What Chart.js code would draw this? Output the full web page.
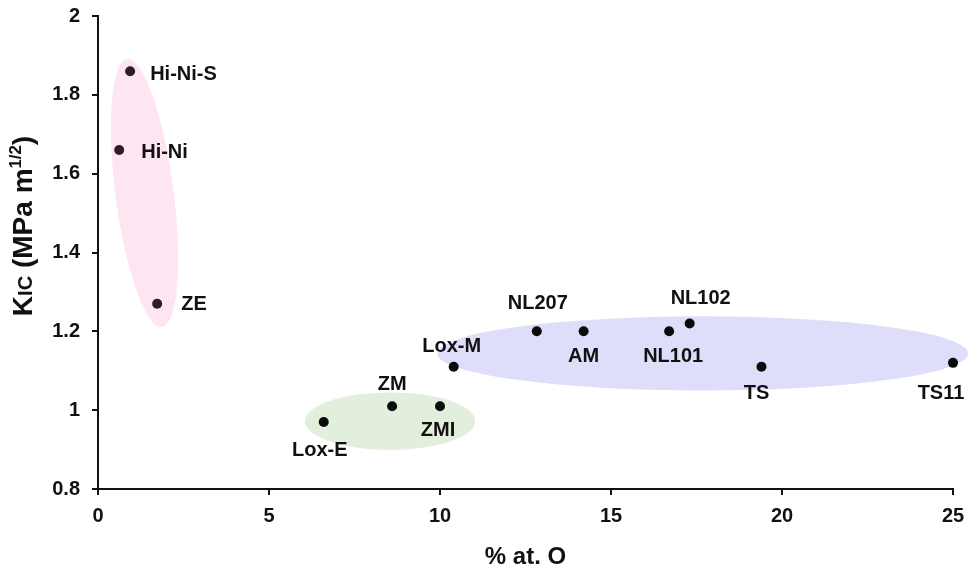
<!DOCTYPE html>
<html>
<head>
<meta charset="utf-8">
<script src="https://cdn.jsdelivr.net/npm/chart.js@4"></script>
<style>
  html, body { margin: 0; padding: 0; background: #fff; }
  canvas { display: block; }
</style>
</head>
<body>
<canvas id="kic-chart" width="975" height="572"></canvas>
<script>
// Tenacidad a la fractura vs contenido de oxigeno

let samples = ["Hi-Ni-S", "Hi-Ni", "ZE", "Lox-E", "ZM", "ZMI", "Lox-M", "NL207", "AM", "NL101", "NL102", "TS", "TS11"];
let oxygen = [0.94, 0.62, 1.73, 6.6, 8.6, 10.0, 10.4, 12.83, 14.2, 16.7, 17.3, 19.4, 25.0];
let kic = [1.86, 1.66, 1.27, 0.97, 1.01, 1.01, 1.11, 1.2, 1.2, 1.2, 1.22, 1.11, 1.12];

let xTicks = [0, 5, 10, 15, 20, 25];
let yTicks = [0.8, 1, 1.2, 1.4, 1.6, 1.8, 2];

// Grupos sombreados (centro y semiejes en unidades de los ejes)
let groups = [
  { cx: 1.36, cy: 1.551, rx: 0.85, ry: 0.343, rot: -7.4, color: "#fde6f1" },
  { cx: 8.54, cy: 0.972, rx: 2.49, ry: 0.073, rot: 0, color: "#e3efdd" },
  { cx: 17.68, cy: 1.144, rx: 7.76, ry: 0.094, rot: 0, color: "#dedefa" },
];

// Posicion de cada etiqueta respecto a su punto (px)
let labelPlacement = [
  { dx: 20, dy: 3, align: "left" },
  { dx: 22, dy: 2, align: "left" },
  { dx: 24, dy: 1, align: "left" },
  { dx: -4, dy: 28, align: "center" },
  { dx: 0, dy: -22, align: "center" },
  { dx: -2, dy: 24, align: "center" },
  { dx: -2, dy: -20, align: "center" },
  { dx: 1, dy: -28, align: "center" },
  { dx: 0, dy: 25, align: "center" },
  { dx: 4, dy: 25, align: "center" },
  { dx: 11, dy: -25, align: "center" },
  { dx: -5, dy: 27, align: "center" },
  { dx: -12, dy: 31, align: "center" },
];

let dotColors = samples.map((s, i) => (i < 3 ? "#2e1c28" : "#0a0a0a"));

const FONT = "'Liberation Sans', Arial, Helvetica, sans-serif";
const INK = "#111";

let ellipsePlugin = {
  id: "ellipses",
  beforeDatasetsDraw(chart) {
    let ctx = chart.ctx;
    let xs = chart.scales.x;
    let ys = chart.scales.y;
    groups.forEach((g) => {
      let px = xs.getPixelForValue(g.cx);
      let py = ys.getPixelForValue(g.cy);
      let rxPx = Math.abs(xs.getPixelForValue(g.cx + g.rx) - px);
      let ryPx = Math.abs(ys.getPixelForValue(g.cy + g.ry) - py);
      ctx.save();
      ctx.fillStyle = g.color;
      ctx.beginPath();
      ctx.ellipse(px, py, rxPx, ryPx, (g.rot * Math.PI) / 180, 0, Math.PI * 2);
      ctx.fill();
      ctx.restore();
    });
  },
};

let labelPlugin = {
  id: "pointLabels",
  afterDatasetsDraw(chart) {
    let ctx = chart.ctx;
    let meta = chart.getDatasetMeta(0);
    ctx.save();
    ctx.font = `bold 20px ${FONT}`;
    ctx.fillStyle = INK;
    ctx.textBaseline = "middle";
    meta.data.forEach((pt, i) => {
      let p = labelPlacement[i];
      ctx.textAlign = p.align;
      ctx.fillText(samples[i], pt.x + p.dx, pt.y + p.dy);
    });
    ctx.restore();
  },
};

// Titulo del eje Y con subindice y superindice
let yTitlePlugin = {
  id: "yTitle",
  afterDraw(chart) {
    let ctx = chart.ctx;
    let size = 28;
    let parts = [
      { t: "K", s: size, rise: 0 },
      { t: "IC", s: size * 0.72, rise: 0 },
      { t: " (MPa m", s: size, rise: 0 },
      { t: "1/2", s: size * 0.6, rise: size * 0.38 },
      { t: ")", s: size, rise: 0 },
    ];
    ctx.save();
    let total = 0;
    parts.forEach((p) => {
      ctx.font = `bold ${p.s}px ${FONT}`;
      p.w = ctx.measureText(p.t).width;
      total += p.w;
    });
    ctx.translate(22, 226);
    ctx.rotate(-Math.PI / 2);
    ctx.fillStyle = INK;
    ctx.textBaseline = "alphabetic";
    ctx.textAlign = "left";
    let x = -total / 2;
    parts.forEach((p) => {
      ctx.font = `bold ${p.s}px ${FONT}`;
      ctx.fillText(p.t, x, size * 0.36 - p.rise);
      x += p.w;
    });
    ctx.restore();
  },
};

let ctx = document.getElementById("kic-chart").getContext("2d");

new Chart(ctx, {
  type: "scatter",
  data: {
    datasets: [
      {
        label: "KIC",
        data: oxygen.map((x, i) => ({ x: x, y: kic[i] })),
        pointRadius: 5,
        pointHoverRadius: 5,
        pointBackgroundColor: dotColors,
        pointBorderWidth: 0,
        clip: false,
      },
    ],
  },
  options: {
    responsive: false,
    animation: false,
    layout: {
      padding: { left: 0, top: 16, right: 22, bottom: 0 },
    },
    plugins: {
      legend: { display: false },
      tooltip: { enabled: false },
    },
    scales: {
      x: {
        type: "linear",
        min: 0,
        max: 25,
        afterFit(scale) {
          scale.height = 83;
        },
        afterBuildTicks(scale) {
          scale.ticks = xTicks.map((v) => ({ value: v }));
        },
        border: { color: INK, width: 2 },
        grid: {
          drawOnChartArea: false,
          drawTicks: true,
          tickLength: 6,
          color: INK,
          lineWidth: 2,
        },
        ticks: {
          color: INK,
          padding: 9,
          font: { family: FONT, size: 20, weight: "bold" },
          callback: (v) => String(v),
        },
        title: {
          display: true,
          text: "% at. O",
          color: INK,
          padding: { top: 0, bottom: 0 },
          font: { family: FONT, size: 24, weight: "bold" },
        },
      },
      y: {
        type: "linear",
        min: 0.8,
        max: 2,
        afterFit(scale) {
          scale.width = 98;
          scale.paddingTop = 0;
          scale.paddingBottom = 0;
        },
        afterBuildTicks(scale) {
          scale.ticks = yTicks.map((v) => ({ value: v }));
        },
        border: { color: INK, width: 2 },
        grid: {
          drawOnChartArea: false,
          drawTicks: true,
          tickLength: 6,
          color: INK,
          lineWidth: 2,
        },
        ticks: {
          color: INK,
          padding: 12,
          font: { family: FONT, size: 20, weight: "bold" },
          callback: (v) => String(Number(v.toFixed(1))),
        },
      },
    },
  },
  plugins: [ellipsePlugin, labelPlugin, yTitlePlugin],
});
</script>
</body>
</html>
